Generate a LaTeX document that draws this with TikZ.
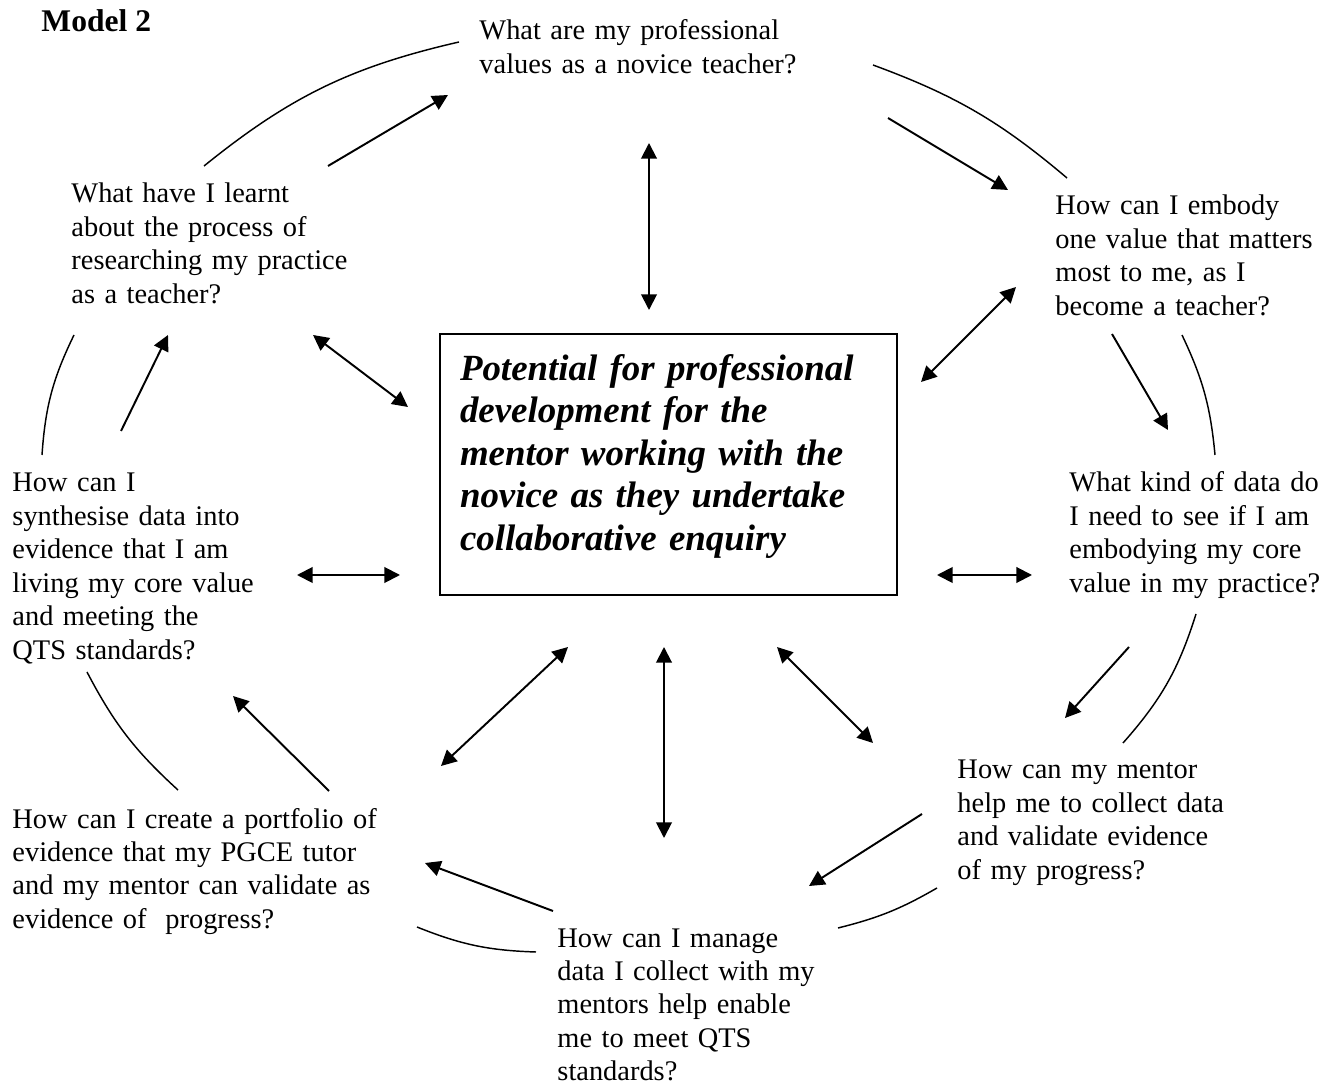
\documentclass[tikz,border=0pt]{standalone}
\usepackage{fontspec}
\setmainfont{Liberation Serif}
\usepackage{tikz}
\usetikzlibrary{arrows.meta}

\tikzset{
  question/.style={anchor=base west, align=left, text width=#1, inner sep=0pt,
    font=\fontsize{11.7}{13.8}\selectfont},
  question/.default=160pt,
  centrebox/.style={draw, line width=0.8pt, minimum width=188.3pt, minimum height=107.5pt,
    inner xsep=8.24pt, text width=171.8pt, align=left,
    font=\fontsize{15.2}{17.5}\selectfont\bfseries\itshape},
  oneway/.style={-{Triangle[length=6.4pt,width=6.4pt]}, line width=0.8pt},
  twoway/.style={{Triangle[length=6.4pt,width=6.4pt]}-{Triangle[length=6.4pt,width=6.4pt]}, line width=0.8pt},
  ring/.style={line width=0.6pt, bend left=#1},
}

\begin{document}
\begin{tikzpicture}[x=0.412pt,y=-0.412pt]
\path[use as bounding box, fill=white] (0,0) rectangle (1337,1087);

\node[anchor=base west, inner sep=0pt, font=\fontsize{13}{14}\selectfont\bfseries] (title) at (41,32) {Model 2};

% the centre box
\node[centrebox] (centre) at (668.5,464.5) {Potential for professional\\
development for the\\
mentor working with the\\
novice as they undertake\\
collaborative enquiry\rule[-10pt]{0pt}{10pt}};

% the questions, clockwise from the top
\node[question] (values) at (479,40) {What are my professional\\
values as a novice teacher?};
\node[question=115pt] (embody) at (1055,215) {How can I embody\\
one value that matters\\
most to me, as I\\
become a teacher?};
\node[question=110pt] (data) at (1069,492) {What kind of data do\\
I need to see if I am\\
embodying my core\\
value in my practice?};
\node[question=150pt] (mentor) at (957,779) {How can my mentor\\
help me to collect data\\
and validate evidence\\
of my progress?};
\node[question] (manage) at (557,947) {How can I manage\\
data I collect with my\\
mentors help enable\\
me to meet QTS\\
standards?};
\node[question] (portfolio) at (12,828) {How can I create a portfolio of\\
evidence that my PGCE tutor\\
and my mentor can validate as\\
evidence of\ \ progress?};
\node[question] (synth) at (12,492) {How can I\\
synthesise data into\\
evidence that I am\\
living my core value\\
and meeting the\\
QTS standards?};
\node[question] (learnt) at (71,203) {What have I learnt\\
about the process of\\
researching my practice\\
as a teacher?};

% ends of the outer ring
\coordinate (learnt-r) at (204,166);   \coordinate (values-l) at (459,42);
\coordinate (values-r) at (873,65);    \coordinate (embody-t) at (1067,178);
\coordinate (embody-b) at (1182,335);  \coordinate (data-t) at (1215,455);
\coordinate (data-b) at (1196,614);    \coordinate (mentor-t) at (1123,743);
\coordinate (mentor-l) at (937,888);   \coordinate (manage-r) at (838,928);
\coordinate (manage-l) at (536,952);   \coordinate (portfolio-r) at (417,927);
\coordinate (portfolio-t) at (178,790);\coordinate (synth-b) at (87,672);
\coordinate (synth-t) at (42,455);     \coordinate (learnt-b) at (74,335);

\draw[ring=13] (learnt-r) to (values-l);
\draw[ring=10] (values-r) to (embody-t);
\draw[ring=10] (embody-b) to (data-t);
\draw[ring=12] (data-b) to (mentor-t);
\draw[ring=8] (mentor-l) to (manage-r);
\draw[ring=10] (manage-l) to (portfolio-r);
\draw[ring=10] (portfolio-t) to (synth-b);
\draw[ring=11] (synth-t) to (learnt-b);

% ends of the inner ring of arrows
\coordinate (a1) at (328,166);  \coordinate (a1e) at (448,95);
\coordinate (a2) at (888,118);  \coordinate (a2e) at (1008,190);
\coordinate (a3) at (1112,334); \coordinate (a3e) at (1168,430);
\coordinate (a4) at (1129,647); \coordinate (a4e) at (1065,718);
\coordinate (a5) at (922,814);  \coordinate (a5e) at (809,886);
\coordinate (a6) at (553,911);  \coordinate (a6e) at (425,863);
\coordinate (a7) at (329,791);  \coordinate (a7e) at (233,696);
\coordinate (a8) at (121,431);  \coordinate (a8e) at (168,335);

\draw[oneway] (a1) -- (a1e);
\draw[oneway] (a2) -- (a2e);
\draw[oneway] (a3) -- (a3e);
\draw[oneway] (a4) -- (a4e);
\draw[oneway] (a5) -- (a5e);
\draw[oneway] (a6) -- (a6e);
\draw[oneway] (a7) -- (a7e);
\draw[oneway] (a8) -- (a8e);

% ends of the spokes to the centre box
\coordinate (values-s) at (649,143);  \coordinate (centre-n) at (649,310);
\coordinate (embody-s) at (1016,287); \coordinate (centre-ne) at (921,382);
\coordinate (data-w) at (1032,575);   \coordinate (centre-e) at (937,575);
\coordinate (mentor-n) at (873,743);  \coordinate (centre-se) at (777,647);
\coordinate (manage-n) at (664,838);  \coordinate (centre-s) at (664,647);
\coordinate (portfolio-n) at (441,766); \coordinate (centre-sw) at (568,647);
\coordinate (synth-e) at (297,575);   \coordinate (centre-w) at (400,575);
\coordinate (learnt-s) at (313,335);  \coordinate (centre-nw) at (408,407);

\draw[twoway] (values-s) -- (centre-n);
\draw[twoway] (embody-s) -- (centre-ne);
\draw[twoway] (data-w) -- (centre-e);
\draw[twoway] (mentor-n) -- (centre-se);
\draw[twoway] (manage-n) -- (centre-s);
\draw[twoway] (portfolio-n) -- (centre-sw);
\draw[twoway] (synth-e) -- (centre-w);
\draw[twoway] (learnt-s) -- (centre-nw);
\end{tikzpicture}
\end{document}
